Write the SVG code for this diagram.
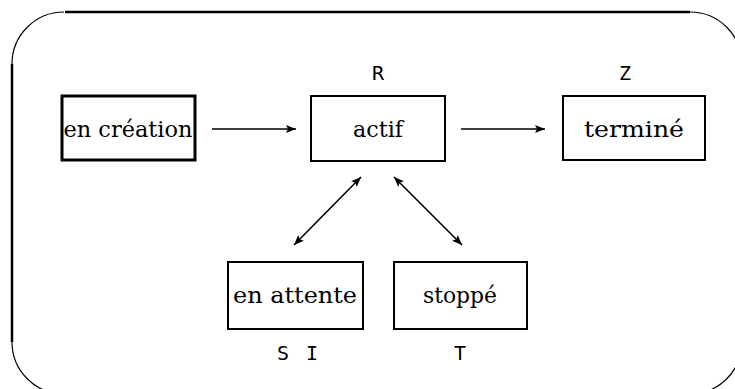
<svg xmlns="http://www.w3.org/2000/svg" width="735" height="389" viewBox="0 0 735 389">
<style>
.box{fill:#fff;stroke:#000;stroke-width:2}
.lbl{font-family:'DejaVu Serif','Liberation Serif',serif;font-size:23px;text-anchor:middle;fill:#000}
.mono{font-family:'DejaVu Sans Mono','Liberation Mono',monospace;font-size:20px;text-anchor:middle;fill:#000}
.conn{stroke:#000;stroke-width:1.6;fill:none}
</style>
<defs>
<marker id="ah" viewBox="0 0 10 8" refX="10" refY="4" markerWidth="10" markerHeight="8" markerUnits="userSpaceOnUse" orient="auto-start-reverse">
<path d="M0,0 L10,4 L0,8 L2,4 z" fill="#000"/>
</marker>
</defs>
<g id="frame" fill="none" stroke="#000">
<path d="M65,12 H690" stroke-width="2.5"/>
<path d="M12,64 V342" stroke-width="2.5"/>
<path d="M12,64 A52,52 0 0 1 64,12" stroke-width="1.2"/>
<path d="M690,12 A52,52 0 0 1 742,64" stroke-width="1.2"/>
<path d="M12,342 A52,52 0 0 0 64,394" stroke-width="1.2"/>
<path d="M742,342 A52,52 0 0 1 690,394" stroke-width="1.2"/>
</g>
<g id="creation">
<rect class="box" x="62" y="96" width="133" height="64" style="stroke-width:3"/>
<text class="lbl" x="128" y="137" textLength="129" lengthAdjust="spacingAndGlyphs">en création</text>
</g>
<g id="actif">
<rect class="box" x="311" y="96" width="134" height="65"/>
<text class="lbl" x="378" y="137" textLength="50" lengthAdjust="spacingAndGlyphs">actif</text>
<text class="mono" x="378" y="80">R</text>
</g>
<g id="termine">
<rect class="box" x="563" y="96" width="142" height="64"/>
<text class="lbl" x="634" y="137" textLength="100" lengthAdjust="spacingAndGlyphs">terminé</text>
<text class="mono" x="625" y="80">Z</text>
</g>
<g id="attente">
<rect class="box" x="228" y="262" width="135" height="67"/>
<text class="lbl" x="295" y="303" textLength="124" lengthAdjust="spacingAndGlyphs">en attente</text>
<text class="mono" x="277" y="360" style="text-anchor:start" textLength="41" lengthAdjust="spacing" xml:space="preserve">S I</text>
</g>
<g id="stoppe">
<rect class="box" x="394" y="262" width="133" height="67"/>
<text class="lbl" x="460" y="303" textLength="74" lengthAdjust="spacingAndGlyphs">stoppé</text>
<text class="mono" x="460" y="360">T</text>
</g>
<g id="connectors">
<line class="conn" x1="212" y1="129" x2="296" y2="129" marker-end="url(#ah)"/>
<line class="conn" x1="461" y1="129" x2="545" y2="129" marker-end="url(#ah)"/>
<line class="conn" x1="294" y1="245" x2="361" y2="177" marker-start="url(#ah)" marker-end="url(#ah)"/>
<line class="conn" x1="394" y1="177" x2="462" y2="245" marker-start="url(#ah)" marker-end="url(#ah)"/>
</g>
</svg>
